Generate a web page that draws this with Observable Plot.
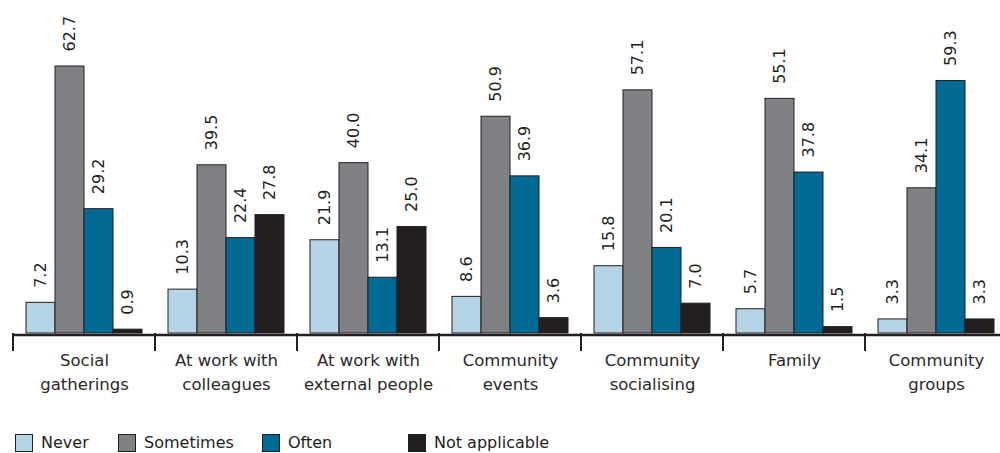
<!DOCTYPE html>
<html><head><meta charset="utf-8">
<script src="https://cdn.jsdelivr.net/npm/d3@7"></script>
<script src="https://cdn.jsdelivr.net/npm/@observablehq/plot@0.6"></script>
<style>
body{margin:0;background:#fff;font-family:"DejaVu Sans",sans-serif;color:#231f20}
#legend{position:relative;height:20px;margin-top:34px;font-size:16px}
.item{position:absolute;top:0;height:18px;line-height:18px;display:flex;align-items:center;white-space:nowrap}
.sw{width:16px;height:16px;border:1px solid #231f20;margin-right:8px;box-sizing:content-box}
</style></head><body><div id="chart"></div><div id="legend"></div>
<script>
const categories = ["Social\ngatherings", "At work with\ncolleagues", "At work with\nexternal people", "Community\nevents", "Community\nsocialising", "Family", "Community\ngroups"];
const series = ["Never", "Sometimes", "Often", "Not applicable"];
const never = [7.2, 10.3, 21.9, 8.6, 15.8, 5.7, 3.3];
const sometimes = [62.7, 39.5, 40.0, 50.9, 57.1, 55.1, 34.1];
const often = [29.2, 22.4, 13.1, 36.9, 20.1, 37.8, 59.3];
const notApplicable = [0.9, 27.8, 25.0, 3.6, 7.0, 1.5, 3.3];
const colors = ["#b5d4e6", "#808184", "#006a94", "#231f20"];
const legendLefts = [15, 118, 262, 408];

const data = categories.flatMap((c, i) =>
  [never[i], sometimes[i], often[i], notApplicable[i]].map((v, j) => ({cat: c, series: series[j], value: v})));

const plot = Plot.plot({
  width: 1000, height: 400,
  marginTop: 0, marginBottom: 67, marginLeft: 12, marginRight: -7,
  style: {fontFamily: "DejaVu Sans", fontSize: "16px", color: "#231f20", background: "#fff"},
  fx: {domain: categories, paddingInner: 0, paddingOuter: 0, axis: null, label: null},
  x: {domain: series, paddingInner: 0, paddingOuter: 0.44, axis: null, label: null},
  y: {domain: [0, 78.2], axis: null, label: null},
  color: {domain: series, range: colors},
  marks: [
    Plot.barY(data, {fx: "cat", x: "series", y: "value", fill: "series", stroke: "#231f20", strokeWidth: 1}),
    Plot.text(data, {fx: "cat", x: "series", y: "value", text: d => d.value.toFixed(1), rotate: -90, textAnchor: "start", dy: -15, fontSize: 16, fill: "#231f20"}),
    Plot.ruleY([0], {stroke: "#231f20", strokeWidth: 2.5, dy: 1.5}),
    Plot.text(categories, {fx: d => d, y: () => 0, text: d => d, lineAnchor: "top", lineHeight: 1.42, dy: 16, fontSize: 16.5, fill: "#2b2829"})
  ]
});
document.getElementById("chart").appendChild(plot);

const fx = plot.scale("fx"), ys = plot.scale("y");
const y0 = ys.apply(0);
d3.select(plot).append("g").selectAll("line").data(categories).join("line")
  .attr("x1", c => fx.apply(c)).attr("x2", c => fx.apply(c))
  .attr("y1", y0).attr("y2", y0 + 18)
  .attr("stroke", "#231f20").attr("stroke-width", 2);

const legend = d3.select("#legend");
series.forEach((s, i) => {
  const it = legend.append("div").attr("class", "item").style("left", legendLefts[i] + "px");
  it.append("div").attr("class", "sw").style("background", colors[i]);
  it.append("span").text(s);
});
</script>
</body></html>
